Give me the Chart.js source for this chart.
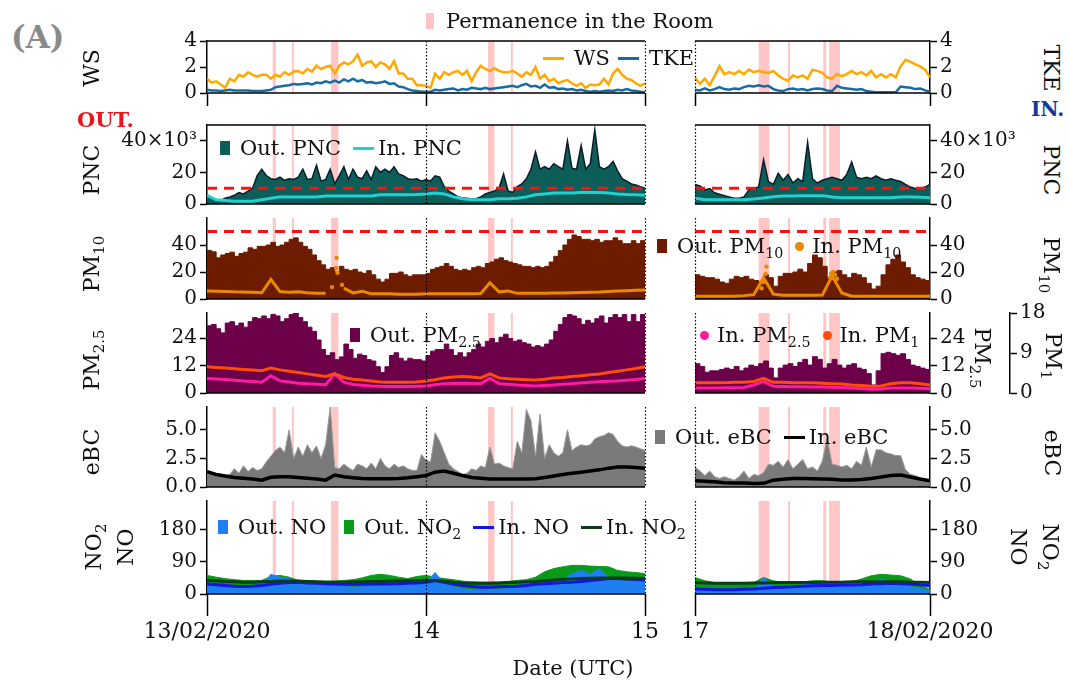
<!DOCTYPE html>
<html>
<head>
<meta charset="utf-8">
<script src="https://cdn.jsdelivr.net/npm/chart.js@4.4.1/dist/chart.umd.min.js"></script>
<style>
  body { margin: 0; background: #fff; width: 1069px; height: 684px; position: relative; overflow: hidden; font-family: "DejaVu Serif", serif; color: #111; }
  canvas { position: absolute; z-index: 1; }
  .t { position: absolute; white-space: nowrap; font-size: 22px; line-height: 1.45; z-index: 2; }
  .rl { transform: translate(-50%, -50%) rotate(-90deg); text-align: center; }
  .rr { transform: translate(-50%, -50%) rotate(90deg); text-align: center; }
  .lg { position: absolute; white-space: nowrap; font-size: 21px; height: 22px; display: flex; align-items: center; z-index: 2; }
  .lg > span.tx { display: inline-block; line-height: 22px; }
  .sq { display: inline-block; width: 10px; height: 14px; margin: 0 10px 0 18px; }
  .ln { display: inline-block; width: 21px; height: 3px; margin: 0 4px 0 12px; }
  .dt { display: inline-block; width: 9px; height: 9px; border-radius: 50%; margin: 0 8px 0 12px; }
  sub { font-size: 0.68em; vertical-align: -0.35em; line-height: 0; }
</style>
</head>
<body>

<div class="t" style="left:11px;top:15px;font-size:31px;font-weight:bold;color:#8a8a8a">(A)</div>
<div class="t" style="left:77px;top:105px;font-size:21px;font-weight:bold;color:#e8141e">OUT.</div>
<div class="t" style="left:1031px;top:95px;font-size:20px;font-weight:bold;color:#123a9c">IN.</div>

<div class="t rl" style="left:92px;top:68px">WS</div>
<div class="t rl" style="left:92px;top:170px">PNC</div>
<div class="t rl" style="left:92px;top:264px">PM<sub>10</sub></div>
<div class="t rl" style="left:92px;top:360px">PM<sub>2.5</sub></div>
<div class="t rl" style="left:92px;top:452px">eBC</div>
<div class="t rl" style="left:110px;top:547px">NO<sub>2</sub><br>NO</div>

<div class="t rr" style="left:1051px;top:68px">TKE</div>
<div class="t rr" style="left:1051px;top:170px">PNC</div>
<div class="t rr" style="left:1051px;top:265px">PM<sub>10</sub></div>
<div class="t rr" style="left:982px;top:358px">PM<sub>2.5</sub></div>
<div class="t rr" style="left:1053px;top:356px">PM<sub>1</sub></div>
<div class="t rr" style="left:1052px;top:453px">eBC</div>
<div class="t rr" style="left:1034px;top:547px">NO<sub>2</sub><br>NO</div>

<div class="t" style="left:573px;top:668px;transform:translate(-50%,-50%);font-size:21px">Date (UTC)</div>

<div class="lg" style="left:426px;top:10px"><span class="sq" style="background:#ffc4c4;width:8px;height:16px;margin:0 12px 0 0"></span><span class="tx">Permanence in the Room</span></div>
<div class="lg" style="left:543px;top:47px"><span class="ln" style="background:#ffa800;margin-left:0;margin-right:10px"></span><span class="tx">WS</span><span class="ln" style="background:#176ca5;margin-left:8px;margin-right:10px"></span><span class="tx">TKE</span></div>
<div class="lg" style="left:220px;top:137px"><span class="sq" style="background:#0d5e58;margin-left:0"></span><span class="tx">Out. PNC</span><span class="ln" style="background:#22d0d0"></span><span class="tx">In. PNC</span></div>
<div class="lg" style="left:657px;top:235px"><span class="sq" style="background:#6e1c00;margin-left:0"></span><span class="tx">Out. PM<sub>10</sub></span><span class="dt" style="background:#e88a00"></span><span class="tx">In. PM<sub>10</sub></span></div>
<div class="lg" style="left:350px;top:324px"><span class="sq" style="background:#6c0049;margin-left:0"></span><span class="tx">Out. PM<sub>2.5</sub></span></div>
<div class="lg" style="left:700px;top:324px"><span class="dt" style="background:#ff1aa0;margin-left:0"></span><span class="tx">In. PM<sub>2.5</sub></span><span class="dt" style="background:#ff4c0a"></span><span class="tx">In. PM<sub>1</sub></span></div>
<div class="lg" style="left:655px;top:426px"><span class="sq" style="background:#7a7a7a;margin-left:0"></span><span class="tx">Out. eBC</span><span class="ln" style="background:#000"></span><span class="tx">In. eBC</span></div>
<div class="lg" style="left:218px;top:516px"><span class="sq" style="background:#1f7ff2;margin-left:0"></span><span class="tx">Out. NO</span><span class="sq" style="background:#0a9a1a"></span><span class="tx">Out. NO<sub>2</sub></span><span class="ln" style="background:#1414e6"></span><span class="tx">In. NO</span><span class="ln" style="background:#0b3d1a"></span><span class="tx">In. NO<sub>2</sub></span></div>

<script>
// hours from the start of each window; fine series every 0.5 h, smooth ones every 1 h
const STEP = 0.5;
const HOUR = 1;

// periods spent in the room (h)
const shadeL = [[7.2, 7.55], [9.3, 9.5], [13.6, 14.4], [30.8, 31.5], [33.3, 33.5]];
const shadeR = [[6.5, 7.6], [9.5, 9.7], [13.1, 13.4], [13.7, 14.8]];

const PNC_LIMIT = 10;
const PM10_LIMIT = 50;

// ---- 13-15/02 ----
const wsL = [1.1, 0.8, 0.9, 0.65, 0.4, 1.1, 0.9, 1.4, 1.25, 1.6, 1.4, 1.25, 1.4, 1.4, 1.1, 1.4, 1.25, 1.6, 1.4, 1.65, 1.7, 1.5, 1.85, 1.65, 2.1, 1.85, 2.0, 2.1, 1.5, 2.1, 2.35, 2.2, 2.45, 2.95, 2.1, 2.35, 2.45, 2.0, 2.35, 2.2, 1.85, 2.45, 1.5, 1.5, 1.1, 1.1, 0.6, 0.6, 0.55,
  0.4, 1.5, 1.1, 1.6, 1.4, 1.6, 1.7, 1.4, 1.7, 0.9, 1.6, 2.1, 1.85, 1.7, 1.9, 1.7, 1.6, 1.6, 1.7, 1.5, 1.25, 1.6, 1.4, 2.0, 1.1, 1.4, 0.9, 1.1, 0.75, 0.9, 1.0, 0.75, 0.55, 0.75, 0.4, 0.65, 0.6, 0.65, 1.1, 0.65, 1.5, 1.85, 1.4, 1.1, 1.0, 0.75, 0.55, 0.75];
const tkeL = [0.25, 0.2, 0.2, 0.15, 0.2, 0.25, 0.2, 0.2, 0.2, 0.2, 0.15, 0.15, 0.15, 0.2, 0.25, 0.45, 0.5, 0.55, 0.6, 0.7, 0.65, 0.7, 0.75, 0.65, 0.8, 0.75, 0.9, 0.8, 0.95, 0.8, 1.05, 0.9, 1.1, 0.9, 1.0, 0.8, 0.85, 0.75, 0.8, 0.9, 0.7, 0.75, 0.5, 0.45, 0.3, 0.2, 0.15, 0.1, 0.1,
  0.1, 0.25, 0.2, 0.25, 0.3, 0.35, 0.2, 0.3, 0.25, 0.4, 0.35, 0.3, 0.4, 0.3, 0.35, 0.4, 0.45, 0.5, 0.55, 0.45, 0.6, 0.7, 0.5, 0.55, 0.4, 0.65, 0.4, 0.45, 0.3, 0.35, 0.25, 0.3, 0.2, 0.25, 0.15, 0.1, 0.15, 0.1, 0.15, 0.2, 0.15, 0.25, 0.2, 0.3, 0.2, 0.15, 0.1, 0.05];
const outPncL = [6, 3.6, 2.7, 2.2, 3.6, 4.5, 5.5, 7.3, 6.4, 8.2, 10, 18, 22, 18, 16, 15.5, 17, 15, 16, 15.5, 17, 22, 15.5, 16, 24.5, 14.5, 15.5, 22, 12.7, 18, 23.6, 15.5, 22, 17, 16, 21, 15.5, 23.6, 20, 22, 20, 23.6, 19, 18, 16, 15.5, 16, 14.5, 15.5,
  14.5, 17.8, 17, 11, 8.2, 6.4, 4.5, 4, 3.6, 3.1, 3.3, 4.5, 6.4, 7.3, 8.2, 10, 19, 8.2, 7.3, 11, 12.7, 16, 22, 33, 22, 23.6, 22, 25.5, 23.6, 22, 40, 22.7, 22, 37, 22, 25.5, 47, 23.6, 22, 23.6, 27, 21, 16, 14.5, 12.7, 12, 11, 10];
const inPncL = [5.5, 2.7, 2.2, 1.8, 1.8, 1.8, 2.7, 3.6, 4.5, 4.5, 4.5, 4.5, 4.5, 5, 5, 5, 5, 5, 5, 5.8, 5.8, 5.8, 5.8, 6, 6.4, 7, 6.4, 4.5, 3.3, 2.7, 2.7, 2.7, 3.3, 3.3, 3.6, 4.5, 5.8, 6.4, 7, 7, 7, 7.3, 7.3, 7.3, 7, 6.4, 6, 5.8, 5.5];
const outPm10L = [36, 35, 30.5, 32.6, 33.7, 34.7, 31.6, 33.7, 34.7, 37.9, 36.8, 39, 39, 40, 42, 39, 40, 42, 44.2, 45.3, 42, 39, 36.8, 32.6, 28.4, 25.3, 22, 23.2, 20, 24.2, 22, 21, 22, 20, 19, 21, 17.9, 14.7, 12.6, 14.7, 19, 19, 20, 17.9, 16.8, 17.9, 17.9, 17.9, 19,
  22, 23.2, 24.2, 26.3, 24.2, 22, 21, 22, 21, 23.2, 24.2, 23.2, 26.3, 27.4, 29.5, 30.5, 28.4, 27.4, 26.3, 25.3, 24.2, 24.2, 23.2, 24.2, 23.2, 24.2, 27.4, 31.6, 35.8, 40, 44.2, 47.4, 46.3, 44.2, 44.2, 43.2, 44.2, 42, 43.2, 43.2, 45.3, 43.2, 41, 41, 43.2, 41, 43.2, 40];
const inPm10L = [5.9, 5.7, 5.6, 5.3, 5.2, 5.0, 4.6, 14.5, 5.5, 5.0, 5.3, 4.6, 4.2, 4.2, null, 8, 4.5, 5.8, 3.8, 3.8, 3.8, 3.6, 3.6, 3.6, 3.8, 3.8, 3.8, 3.8, 3.8, 3.8, 4.0, 12, 5.3, 6.0, 4.2, 4.2, 4.2, 4.2, 4.4, 4.4, 4.6, 4.8, 5.0, 5.2, 5.6, 5.9, 6.2, 6.5, 6.7];
const inPm10DotsL = [[13.7, 8.8], [14.15, 23], [14.2, 30.5], [14.3, 19.4], [14.8, 10.5]];
const outPm25L = [29.4, 30, 28.1, 26.3, 30.6, 31.2, 29.4, 30.6, 28.8, 31.2, 33, 32.5, 33.7, 32.5, 34.3, 33.7, 31.2, 32.5, 34.3, 35, 33, 31.2, 28.8, 27, 23.2, 19, 16.4, 17.6, 14.6, 15.8, 21.4, 19, 15.2, 17, 16.4, 14.6, 14, 11.5, 9, 11.5, 16.4, 17.6, 15.2, 14, 15.2, 14.6, 14.6, 14, 16.4,
  18.3, 19, 19, 21.4, 19, 16.4, 17.6, 15.8, 17.6, 19, 21.4, 20.1, 22.6, 23.8, 22, 24.4, 25.7, 23.8, 22.6, 23.2, 22, 21.4, 20.1, 20.7, 20.1, 21.4, 23.2, 27, 30, 33, 34.3, 33.7, 32.5, 30, 31.8, 30.6, 32.5, 33.7, 30.6, 33, 34.3, 33, 34.3, 31.2, 34.3, 31.2, 34.3, 31.8];
const inPm25L = [6.3, 6.1, 5.9, 5.6, 5.3, 5.0, 4.7, 7.5, 5.3, 4.8, 4.3, 4.0, 3.8, 3.6, 8.4, 4.7, 3.7, 3.4, 3.1, 2.9, 2.8, 2.8, 2.8, 2.9, 3.1, 3.6, 4.1, 4.2, 4.3, 4.2, 4.1, 6.5, 4.1, 3.8, 3.5, 3.3, 3.1, 3.3, 3.5, 3.8, 4.1, 4.4, 4.7, 4.9, 5.1, 5.3, 5.6, 5.9, 6.3];
const inPm1L = [5.9, 5.75, 5.6, 5.45, 5.3, 5.15, 5.0, 5.6, 5.2, 4.9, 4.6, 4.3, 4.0, 3.7, 4.3, 3.5, 3.1, 2.9, 2.7, 2.5, 2.4, 2.4, 2.4, 2.5, 2.7, 3.0, 3.4, 3.6, 3.7, 3.6, 3.4, 4.3, 3.4, 3.2, 3.1, 3.0, 2.9, 3.1, 3.4, 3.5, 3.7, 3.9, 4.1, 4.3, 4.6, 4.9, 5.2, 5.5, 5.9];
const outBcL = [1.46, 1.2, 1.1, 1.0, 0.96, 1.1, 1.6, 1.2, 1.85, 1.35, 1.7, 1.45, 1.6, 2.2, 2.7, 3.2, 3.5, 3.0, 5.0, 2.5, 3.5, 2.7, 3.7, 3.0, 3.6, 2.5, 3.7, 7.0, 1.7, 1.6, 2.0, 1.7, 1.45, 2.0, 1.85, 1.6, 2.1, 1.6, 2.5, 1.85, 1.6, 2.0, 1.7, 1.85, 1.6, 1.45, 1.45, 2.85, 2.35,
  2.2, 4.75, 4.0, 3.0, 2.0, 1.6, 1.35, 1.1, 1.2, 1.6, 1.45, 1.85, 1.7, 3.5, 2.0, 2.1, 1.85, 1.7, 1.6, 4.0, 3.0, 6.8, 5.8, 2.7, 6.4, 2.5, 3.7, 3.0, 2.7, 3.0, 5.0, 3.2, 3.5, 3.7, 3.6, 3.7, 4.2, 4.4, 4.5, 4.75, 4.6, 4.0, 3.6, 3.5, 3.6, 3.5, 3.35, 3.2];
const inBcL = [1.35, 1.1, 0.96, 0.83, 0.76, 0.7, 0.6, 0.85, 0.9, 0.9, 0.83, 0.76, 0.7, 0.6, 1.05, 0.9, 0.8, 0.75, 0.72, 0.72, 0.72, 0.75, 0.8, 0.9, 1.0, 1.3, 1.4, 1.2, 1.0, 0.83, 0.76, 0.7, 0.7, 0.7, 0.7, 0.7, 0.72, 0.83, 0.96, 1.1, 1.2, 1.3, 1.4, 1.5, 1.65, 1.75, 1.75, 1.7, 1.65];
const outNo2L = [52, 47, 43, 40, 38, 38, 38, 49, 52, 47, 38, 37, 36, 36, 36, 38, 40, 45, 52, 55, 52, 47, 43, 49, 52, 47, 43, 40, 36, 34, 33, 33, 33, 35, 38, 40, 47, 62, 71, 76, 80, 80, 78, 77, 76, 66, 62, 60, 57];
const outNoL = [30, 27, 24, 21, 19, 21, 24, 55, 47, 43, 33, 30, 28, 26, 24, 21, 19, 20, 21, 22, 24, 25, 27, 30, 33, 60, 28, 20, 14, 12, 11, 12, 13, 15, 17, 19, 22, 25, 30, 40, 57, 66, 55, 71, 47, 38, 35, 33, 33];
const inNoL = [28, 26, 24, 22, 21, 22, 24, 27, 30, 32, 33, 31, 30, 29, 28, 27, 27, 27, 28, 28, 28, 29, 30, 31, 33, 38, 33, 28, 24, 21, 19, 19, 20, 21, 22, 24, 27, 29, 30, 32, 33, 35, 38, 40, 43, 43, 42, 41, 40];
const inNo2L = [38, 37, 35, 34, 33, 33, 34, 35, 36, 36, 36, 35, 34, 33, 33, 33, 34, 34, 35, 35, 36, 36, 37, 37, 38, 38, 36, 33, 31, 30, 30, 30, 31, 32, 33, 34, 35, 37, 39, 41, 42, 43, 44, 45, 45, 45, 45, 44, 43];

// ---- 17-18/02 ----
const wsR = [1.2, 0.7, 1.1, 0.6, 1.3, 2.05, 1.45, 1.6, 1.45, 1.7, 1.45, 1.8, 1.6, 1.7, 1.6, 1.55, 1.7, 1.35, 1.1, 0.95, 1.35, 1.2, 1.35, 1.1, 1.8, 1.7, 1.55, 1.2, 1.1, 1.45, 1.3, 1.45, 1.7, 1.45, 1.6, 1.35, 1.7, 1.2, 1.45, 1.2, 1.45, 1.2, 2.05, 2.55, 2.4, 2.2, 2.05, 1.8, 1.2];
const tkeR = [0.25, 0.2, 0.35, 0.2, 0.3, 0.45, 0.3, 0.25, 0.35, 0.3, 0.45, 0.55, 0.5, 0.6, 0.5, 0.55, 0.3, 0.2, 0.15, 0.3, 0.35, 0.25, 0.3, 0.2, 0.3, 0.35, 0.3, 0.2, 0.15, 0.55, 0.4, 0.35, 0.3, 0.25, 0.3, 0.15, 0.1, 0.05, 0.05, 0.05, 0.05, 0.05, 0.5, 0.45, 0.4, 0.3, 0.35, 0.2, 0.1];
const outPncR = [12.4, 11.5, 8.9, 9.8, 7.1, 6.2, 5.3, 4.4, 3.6, 3.6, 4.4, 8.9, 9.8, 10.7, 28, 14.2, 12.4, 19.5, 15, 18.6, 13.3, 16, 14.2, 39, 16, 13.3, 15, 16, 16.9, 16, 15, 18.6, 26.6, 16.9, 16, 16.9, 16, 17.8, 16, 15, 16, 15, 14.2, 12.4, 10.7, 9.8, 9.8, 10.7, 12.4];
const inPncR = [3.6, 2.7, 2.7, 2.7, 2.7, 2.7, 3.2, 3.8, 4.6, 5, 5, 5.3, 5.3, 5.3, 4.4, 3.9, 3.9, 3.9, 3.9, 3.9, 3.9, 4.4, 4.4, 4.2, 3.9];
const outPm10R = [17.9, 16.8, 15.8, 15.8, 14.7, 12.6, 11.6, 14.7, 16.8, 15.8, 16.8, 14.7, 13.7, 12.6, 17.9, 15.8, 9.5, 16.8, 19, 19, 20, 22.1, 20, 26.3, 32.6, 30.5, 24.2, 15.8, 20, 21, 17.9, 15.8, 19, 17.9, 15.8, 11.6, 7.4, 9.5, 17.9, 25.3, 29.5, 32.6, 27.4, 23.2, 17.9, 15.8, 14.7, 13.7, 17.9];
const inPm10R = [2.1, 2.1, 2.1, 2.1, 2.1, 2.5, 3.2, 15.8, 3.6, 2.7, 2.7, 2.7, 2.7, 2.9, 17, 4.5, 2.1, 2.1, 2.1, 2.1, 2.1, 2.1, 2.1, 2.1, 2.1];
const inPm10DotsR = [[6.8, 8], [7.0, 12.6], [7.2, 18.5], [7.3, 24], [13.8, 16], [13.9, 19], [14.1, 20], [14.3, 18], [14.5, 15]];
const outPm25R = [12.8, 11.6, 9.1, 9.7, 9.7, 10.3, 10.9, 10.3, 11.6, 9.7, 10.9, 12.2, 11.6, 12.8, 14, 10.9, 6.6, 10.9, 12.2, 12.8, 11.6, 13.4, 14.7, 12.2, 15.9, 14.7, 10.9, 12.8, 14.7, 12.2, 10.9, 12.2, 12.8, 10.9, 10.3, 8.5, 3.5, 9.7, 17.2, 17.8, 17.2, 16.5, 17.2, 14.7, 12.2, 11.6, 10.9, 10.3, 9.1];
const inPm25R = [2.2, 2.2, 2.2, 2.3, 2.3, 2.4, 3.5, 5.0, 2.9, 2.8, 2.7, 2.7, 2.6, 2.6, 2.5, 2.4, 2.2, 2.0, 1.6, 1.8, 2.2, 2.2, 2.2, 2.1, 1.9];
const inPm1R = [2.3, 2.3, 2.3, 2.3, 2.4, 2.4, 2.6, 3.3, 2.4, 2.4, 2.3, 2.3, 2.3, 2.2, 2.1, 2.0, 1.8, 1.7, 1.5, 1.6, 2.1, 2.3, 2.3, 2.1, 1.8];
const outBcR = [1.75, 1.4, 1.0, 1.4, 0.9, 0.75, 0.9, 0.75, 0.6, 0.9, 1.4, 0.75, 1.1, 1.0, 1.25, 2.0, 1.9, 2.25, 1.75, 2.4, 1.6, 2.0, 2.4, 1.6, 1.75, 1.4, 2.25, 4.25, 2.0, 1.9, 1.75, 1.9, 1.6, 2.25, 1.9, 3.5, 1.75, 3.25, 3.25, 3.0, 2.9, 2.75, 2.75, 1.5, 1.1, 1.0, 0.75, 0.6, 0.6];
const inBcR = [0.55, 0.5, 0.45, 0.38, 0.35, 0.35, 0.3, 0.32, 0.6, 0.68, 0.75, 0.75, 0.72, 0.7, 0.68, 0.62, 0.62, 0.65, 0.75, 0.88, 1.0, 1.05, 0.88, 0.7, 0.55];
const outNo2R = [46, 37, 32, 32, 28, 28, 32, 46, 37, 32, 32, 34, 37, 37, 34, 32, 34, 42, 51, 55, 53, 51, 42, 23, 14];
const outNoR = [14, 12, 9, 9, 9, 10, 12, 46, 18, 20, 23, 25, 28, 30, 32, 30, 28, 30, 32, 42, 35, 28, 20, 15, 10];
const inNoR = [14, 13, 12, 12, 12, 13, 14, 16, 18, 19, 20, 22, 23, 24, 24, 25, 25, 26, 28, 29, 30, 29, 28, 26, 23];
const inNo2R = [32, 31, 30, 30, 30, 30, 31, 31, 32, 32, 32, 32, 32, 33, 33, 33, 34, 34, 34, 34, 34, 34, 33, 33, 32];

const FONT = "DejaVu Serif";
const MT = 14, MB = 14, PAD = 24;

const cols = {
  L: { x0: 207, w: 438, xMax: 48, side: "left", shades: shadeL, dotted: [24, 48], xTicks: [0, 24, 48], xLabels: { 0: "13/02/2020", 24: "14", 48: "15" } },
  R: { x0: 695, w: 235, xMax: 24, side: "right", shades: shadeR, dotted: [0], xTicks: [0, 24], xLabels: { 0: "17", 24: "18/02/2020" } },
};
const rows = {
  ws: { top: 40, bot: 95, xMode: "ticks", topLine: true },
  pnc: { top: 124, bot: 217, xMode: "none", topLine: true },
  pm10: { top: 217, bot: 312, xMode: "none" },
  pm25: { top: 312, bot: 406, xMode: "none" },
  bc: { top: 406, bot: 500, xMode: "none" },
  no: { top: 500, bot: 594, xMode: "labels" },
};

const P = (arr, step) => arr.map((v, i) => ({ x: i * step, y: v }));

const line = (data, color, w, extra) =>
  Object.assign({ data, borderColor: color, borderWidth: w, pointRadius: 0, fill: false, tension: 0 }, extra || {});
const area = (data, color, border, extra) =>
  Object.assign({ data, borderColor: border, backgroundColor: color, borderWidth: 1, pointRadius: 0, fill: "origin", tension: 0 }, extra || {});
const limit = (v, xMax) => line([{ x: 0, y: v }, { x: xMax, y: v }], "#ff1010", 3, { borderDash: [10, 7] });
const dots = (pts, color) => ({
  data: pts.map(([x, y]) => ({ x, y })), showLine: false, pointRadius: 2.2,
  pointBackgroundColor: color, pointBorderWidth: 0,
});

// shading behind the data, frame lines on top
const framePlugin = {
  id: "frame",
  beforeDatasetsDraw(chart, args, o) {
    const { ctx, chartArea: a, scales: { x } } = chart;
    ctx.save();
    ctx.fillStyle = "#ffc6c6";
    o.shades.forEach(([s, e]) => {
      const x1 = x.getPixelForValue(s), x2 = x.getPixelForValue(e);
      ctx.fillRect(x1, a.top, Math.max(x2 - x1, 2), a.bottom - a.top);
    });
    ctx.restore();
  },
  afterDatasetsDraw(chart, args, o) {
    const { ctx, chartArea: a, scales: { x } } = chart;
    ctx.save();
    ctx.strokeStyle = "#000";
    ctx.lineWidth = 1.5;
    ctx.beginPath();
    ctx.moveTo(a.left, a.bottom);
    ctx.lineTo(a.right, a.bottom);
    if (o.topLine) {
      ctx.moveTo(a.left, a.top);
      ctx.lineTo(a.right, a.top);
    }
    ctx.stroke();
    ctx.lineWidth = 1.2;
    ctx.setLineDash([1.5, 2]);
    ctx.beginPath();
    o.dotted.forEach((v) => {
      const px = Math.round(x.getPixelForValue(v)) + 0.5;
      ctx.moveTo(px, a.top);
      ctx.lineTo(px, a.bottom);
    });
    ctx.stroke();
    ctx.restore();
  },
};

function yAxis(side, cfg, width, weight) {
  return {
    type: "linear", position: side, min: cfg.min, max: cfg.max, weight, z: 1,
    afterBuildTicks: (s) => { s.ticks = cfg.ticks.map((v) => ({ value: v })); },
    afterFit: (s) => { s.width = width; },
    ticks: {
      font: { family: FONT, size: 20 }, color: "#111", padding: 3,
      callback: (v) => (cfg.labels && cfg.labels[v] !== undefined ? cfg.labels[v] : String(v)),
    },
    grid: { drawOnChartArea: false, drawTicks: true, tickLength: 7, tickWidth: 1.5, tickColor: "#000" },
    border: { display: true, color: "#000", width: 1.5 },
  };
}

function xAxis(c, mode) {
  return {
    type: "linear", min: 0, max: c.xMax, display: mode !== "none",
    afterBuildTicks: (s) => { s.ticks = c.xTicks.map((v) => ({ value: v })); },
    afterFit: (s) => { s.height = mode === "labels" ? 60 : 13; },
    ticks: {
      display: mode === "labels", autoSkip: false, maxRotation: 0, padding: 3,
      font: { family: FONT, size: 22 }, color: "#111",
      callback: (v) => c.xLabels[v],
    },
    grid: { drawOnChartArea: false, drawTicks: true, tickLength: mode === "labels" ? 22 : 13, tickWidth: 1.5, tickColor: "#000" },
    border: { display: false },
  };
}

function panel(colKey, rowKey, datasets, yc, y2c) {
  const c = cols[colKey], r = rows[rowKey];
  const xH = r.xMode === "labels" ? 60 : r.xMode === "ticks" ? 13 : 0;
  const twoAxes = y2c && colKey === "R";
  const yW = twoAxes ? 80 : 90;
  const y2W = twoAxes ? 40 : 0;
  const axW = yW + y2W;
  const cv = document.createElement("canvas");
  cv.width = axW + c.w + PAD;
  cv.height = MT + (r.bot - r.top) + (xH || MB);
  cv.style.left = (c.side === "left" ? c.x0 - axW : c.x0 - PAD) + "px";
  cv.style.top = (r.top - MT) + "px";
  document.body.appendChild(cv);

  const scales = { x: xAxis(c, r.xMode), y: yAxis(c.side, yc, yW, 0) };
  if (y2c) {
    scales.y2 = twoAxes ? yAxis("right", y2c, y2W, 1) : { type: "linear", display: false, min: y2c.min, max: y2c.max };
  }
  return new Chart(cv, {
    type: "line",
    data: { datasets },
    options: {
      responsive: false, animation: false, devicePixelRatio: 1,
      layout: { padding: { left: c.side === "left" ? 0 : PAD, right: c.side === "left" ? PAD : 0, top: MT, bottom: xH ? 0 : MB } },
      plugins: {
        legend: { display: false }, tooltip: { enabled: false },
        frame: { shades: c.shades, dotted: c.dotted, topLine: !!r.topLine },
      },
      scales,
    },
    plugins: [framePlugin],
  });
}

const yWS = { min: 0, max: 4, ticks: [0, 2, 4] };
const yPNC = { min: 0, max: 50, ticks: [0, 20, 40], labels: { 40: "40×10³" } };
const yPM10 = { min: 0, max: 60, ticks: [0, 20, 40] };
const yPM25 = { min: 0, max: 35, ticks: [0, 12, 24] };
const yPM1 = { min: 0, max: 18, ticks: [0, 9, 18] };
const yBC = { min: 0, max: 7, ticks: [0, 2.5, 5], labels: { 0: "0.0", 2.5: "2.5", 5: "5.0" } };
const yNO = { min: 0, max: 260, ticks: [0, 90, 180] };

function drawColumn(k, d) {
  const xMax = cols[k].xMax;
  panel(k, "ws", [
    line(P(d.tke, STEP), "#176ca5", 2.5),
    line(P(d.ws, STEP), "#ffa800", 2.5),
  ], yWS);
  panel(k, "pnc", [
    line(P(d.inPnc, HOUR), "#22d0d0", 3),
    limit(PNC_LIMIT, xMax),
    area(P(d.outPnc, STEP), "#0d5e58", "#0a1d2b", { borderWidth: 1.5 }),
  ], yPNC);
  panel(k, "pm10", [
    dots(d.pm10Dots, "#e88a00"),
    line(P(d.inPm10, HOUR), "#e88a00", 3),
    limit(PM10_LIMIT, xMax),
    area(P(d.outPm10, STEP), "#6e1c00", "#6e1c00", { stepped: true }),
  ], yPM10);
  panel(k, "pm25", [
    line(P(d.inPm1, HOUR), "#ff4c0a", 3, { yAxisID: "y2" }),
    line(P(d.inPm25, HOUR), "#ff1aa0", 3),
    area(P(d.outPm25, STEP), "#6c0049", "#6c0049", { stepped: true }),
  ], yPM25, yPM1);
  panel(k, "bc", [
    line(P(d.inBc, HOUR), "#000", 3.5),
    area(P(d.outBc, STEP), "#7a7a7a", "#9a9a9a"),
  ], yBC);
  panel(k, "no", [
    line(P(d.inNo2, HOUR), "#0b3d1a", 3),
    line(P(d.inNo, HOUR), "#1414e6", 3),
    area(P(d.outNo, HOUR), "#1f7ff2", "#1f7ff2"),
    area(P(d.outNo2, HOUR), "#0a9a1a", "#0a9a1a"),
  ], yNO);
}

drawColumn("L", {
  ws: wsL, tke: tkeL, outPnc: outPncL, inPnc: inPncL, outPm10: outPm10L, inPm10: inPm10L, pm10Dots: inPm10DotsL,
  outPm25: outPm25L, inPm25: inPm25L, inPm1: inPm1L, outBc: outBcL, inBc: inBcL,
  outNo: outNoL, outNo2: outNo2L, inNo: inNoL, inNo2: inNo2L,
});
drawColumn("R", {
  ws: wsR, tke: tkeR, outPnc: outPncR, inPnc: inPncR, outPm10: outPm10R, inPm10: inPm10R, pm10Dots: inPm10DotsR,
  outPm25: outPm25R, inPm25: inPm25R, inPm1: inPm1R, outBc: outBcR, inBc: inBcR,
  outNo: outNoR, outNo2: outNo2R, inNo: inNoR, inNo2: inNo2R,
});
</script>
</body>
</html>
